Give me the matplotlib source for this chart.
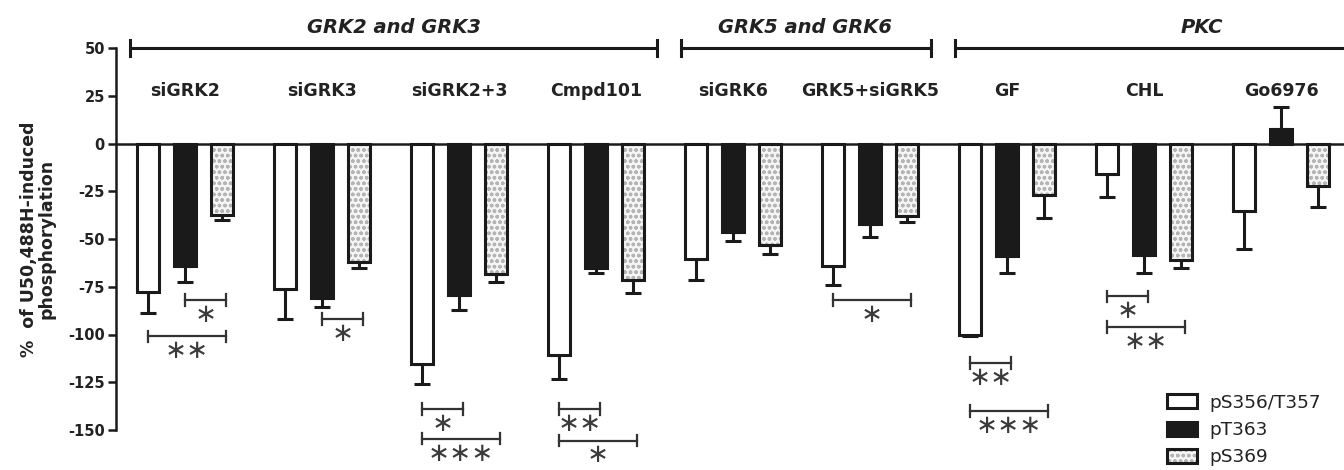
import matplotlib
matplotlib.use("Agg")
import matplotlib.pyplot as plt
from matplotlib.patches import Patch
import numpy as np

plt.rcParams['font.family'] = ['DejaVu Sans']

# ---------------- data ----------------
groups = ['siGRK2', 'siGRK3', 'siGRK2+3', 'Cmpd101', 'siGRK6',
          'GRK5+siGRK5', 'GF', 'CHL', 'Go6976']
series = ['pS356/T357', 'pT363', 'pS369']

pS356 = [-77.5, -76, -115.5, -110.5, -60.5, -64, -100, -16, -35.5]
pS356_err = [11.5, 16, 10.5, 13, 11, 10, 1, 12, 19.5]
pT363 = [-64, -81, -79.5, -65, -46.5, -42.4, -59, -58.5, 7.5]
pT363_err = [8.5, 4.5, 7.5, 3, 4.5, 6.5, 9, 9.5, 11.5]
pS369 = [-37.5, -62, -68.5, -71.5, -53, -38, -27, -61, -22.5]
pS369_err = [2.5, 3, 4, 7, 5, 3, 12, 4, 10.5]

# families of kinases: (label, first group, last group)
families = [('GRK2 and GRK3', 0, 3), ('GRK5 and GRK6', 4, 5), ('PKC', 6, 8)]

# significance: (group, bar a, bar b, y level, label)
sig = [(0, 1, 2, -82, '*'), (0, 0, 2, -101, '**'),
       (1, 1, 2, -92, '*'),
       (2, 0, 1, -139, '*'), (2, 0, 2, -154.5, '***'),
       (3, 0, 1, -139, '**'), (3, 0, 2, -155.5, '*'),
       (5, 0, 2, -82, '*'),
       (6, 0, 1, -115, '**'), (6, 0, 2, -140, '***'),
       (7, 0, 1, -80, '*'), (7, 0, 2, -96, '**')]

yticks = [50, 25, 0, -25, -50, -75, -100, -125, -150]

# ---------------- figure ----------------
fig = plt.figure(figsize=(13.44, 4.70), dpi=100)
ax = fig.add_axes([116 / 1344, 1 - 430 / 470, 1 - 116 / 1344, 382 / 470])

x = np.arange(len(groups))
pitch = 0.27
offsets = [-pitch, 0, pitch]
width = 0.165
lw = 2.2
ink = '#1a1a1a'
txt = '#222222'
hatch_face = '#f5f5f5'
hatch_col = '#b4b4b4'

vals = [pS356, pT363, pS369]
errs = [pS356_err, pT363_err, pS369_err]

for k in range(3):
    xs = x + offsets[k]
    v = np.array(vals[k])
    e = np.array(errs[k])
    lower = np.where(v < 0, e, 0)
    upper = np.where(v >= 0, e, 0)
    ax.errorbar(xs, v, yerr=[lower, upper], fmt='none', ecolor=ink,
                elinewidth=2.2, capsize=5.5, capthick=2.2, zorder=2)
    if k == 0:
        ax.bar(xs, v, width, color='white', edgecolor=ink, linewidth=lw, zorder=3)
    elif k == 1:
        ax.bar(xs, v, width, color=ink, edgecolor=ink, linewidth=lw, zorder=3)
    else:
        ax.bar(xs, v, width, color=hatch_face, edgecolor=hatch_col, hatch='ooo',
               linewidth=0, zorder=3)
        ax.bar(xs, v, width, color='none', edgecolor=ink, linewidth=lw, zorder=4)

ax.set_xlim((116 - 185) / 137, (1344 - 185) / 137)
ax.set_ylim(-150, 50)
ax.set_yticks(yticks)
ax.set_yticklabels([str(t) for t in yticks], fontweight='bold', fontsize=10.5,
                   color=txt)
ax.tick_params(axis='y', direction='out', length=6, width=1.8, color=ink, pad=2)
ax.set_xticks([])
for s in ['top', 'right']:
    ax.spines[s].set_visible(False)
ax.spines['bottom'].set_position(('data', 0))
ax.spines['bottom'].set_linewidth(1.8)
ax.spines['bottom'].set_color(ink)
ax.spines['bottom'].set_zorder(5)
ax.spines['left'].set_linewidth(1.8)
ax.spines['left'].set_color(ink)

ax.set_ylabel('%  of U50,488H-induced\nphosphorylation', fontsize=12.5,
              fontweight='bold', color=txt, labelpad=9, linespacing=1.0)

# group labels
for i, g in enumerate(groups):
    ax.text(x[i], 27.5, g, ha='center', va='center', fontsize=12.5,
            fontweight='bold', color=txt)

# family brackets
fam_pad_l = 0.40
fam_pad_r = 0.445
for idx, (lab, a, b) in enumerate(families):
    x0 = x[a] - fam_pad_l + (0.02 if idx > 0 else 0)
    x1 = x[b] + fam_pad_r if idx < len(families) - 1 else x[b] + 1.0
    ax.plot([x0, x1], [50, 50], color=ink, lw=2.2, clip_on=False, solid_capstyle='butt')
    ax.plot([x0, x0], [46, 54], color=ink, lw=2.2, clip_on=False)
    if idx < len(families) - 1:
        ax.plot([x1, x1], [46, 54], color=ink, lw=2.2, clip_on=False)
    xc = (x[a] - fam_pad_l + x[b] + fam_pad_r) / 2 if idx < len(families) - 1 else 7.42
    ax.text(xc, 60.5, lab, ha='center', va='center', fontsize=14,
            fontweight='bold', fontstyle='italic', color=txt, clip_on=False)

# significance brackets
for g, a, b, yv, lab in sig:
    xa = x[g] + offsets[a]
    xb = x[g] + offsets[b] + 0.03
    ax.plot([xa, xb], [yv, yv], color='#333333', lw=1.6, clip_on=False)
    ax.plot([xa, xa], [yv - 3, yv + 3], color='#333333', lw=1.6, clip_on=False)
    ax.plot([xb, xb], [yv - 3, yv + 3], color='#333333', lw=1.6, clip_on=False)
    ax.text((xa + xb) / 2, yv - 1.0, '\u2217' * len(lab), ha='center', va='top',
            fontsize=19, color='#3a3a3a', clip_on=False)

# legend
h1 = Patch(facecolor='white', edgecolor=ink, linewidth=lw)
h2 = Patch(facecolor=ink, edgecolor=ink, linewidth=lw)
h3a = Patch(facecolor=hatch_face, edgecolor=hatch_col, hatch='ooo', linewidth=0)
h3b = Patch(facecolor='none', edgecolor=ink, linewidth=lw)
leg = ax.legend([h1, h2, (h3a, h3b)], series, loc='lower left',
                bbox_to_anchor=(1167 / 1344, 0.008), bbox_transform=fig.transFigure,
                frameon=False, fontsize=13.3, handlelength=1.6, handleheight=0.8,
                handletextpad=0.7, labelspacing=0.5, borderaxespad=0, borderpad=0)
for t in leg.get_texts():
    t.set_color(txt)

fig.savefig('out.png', dpi=100)
